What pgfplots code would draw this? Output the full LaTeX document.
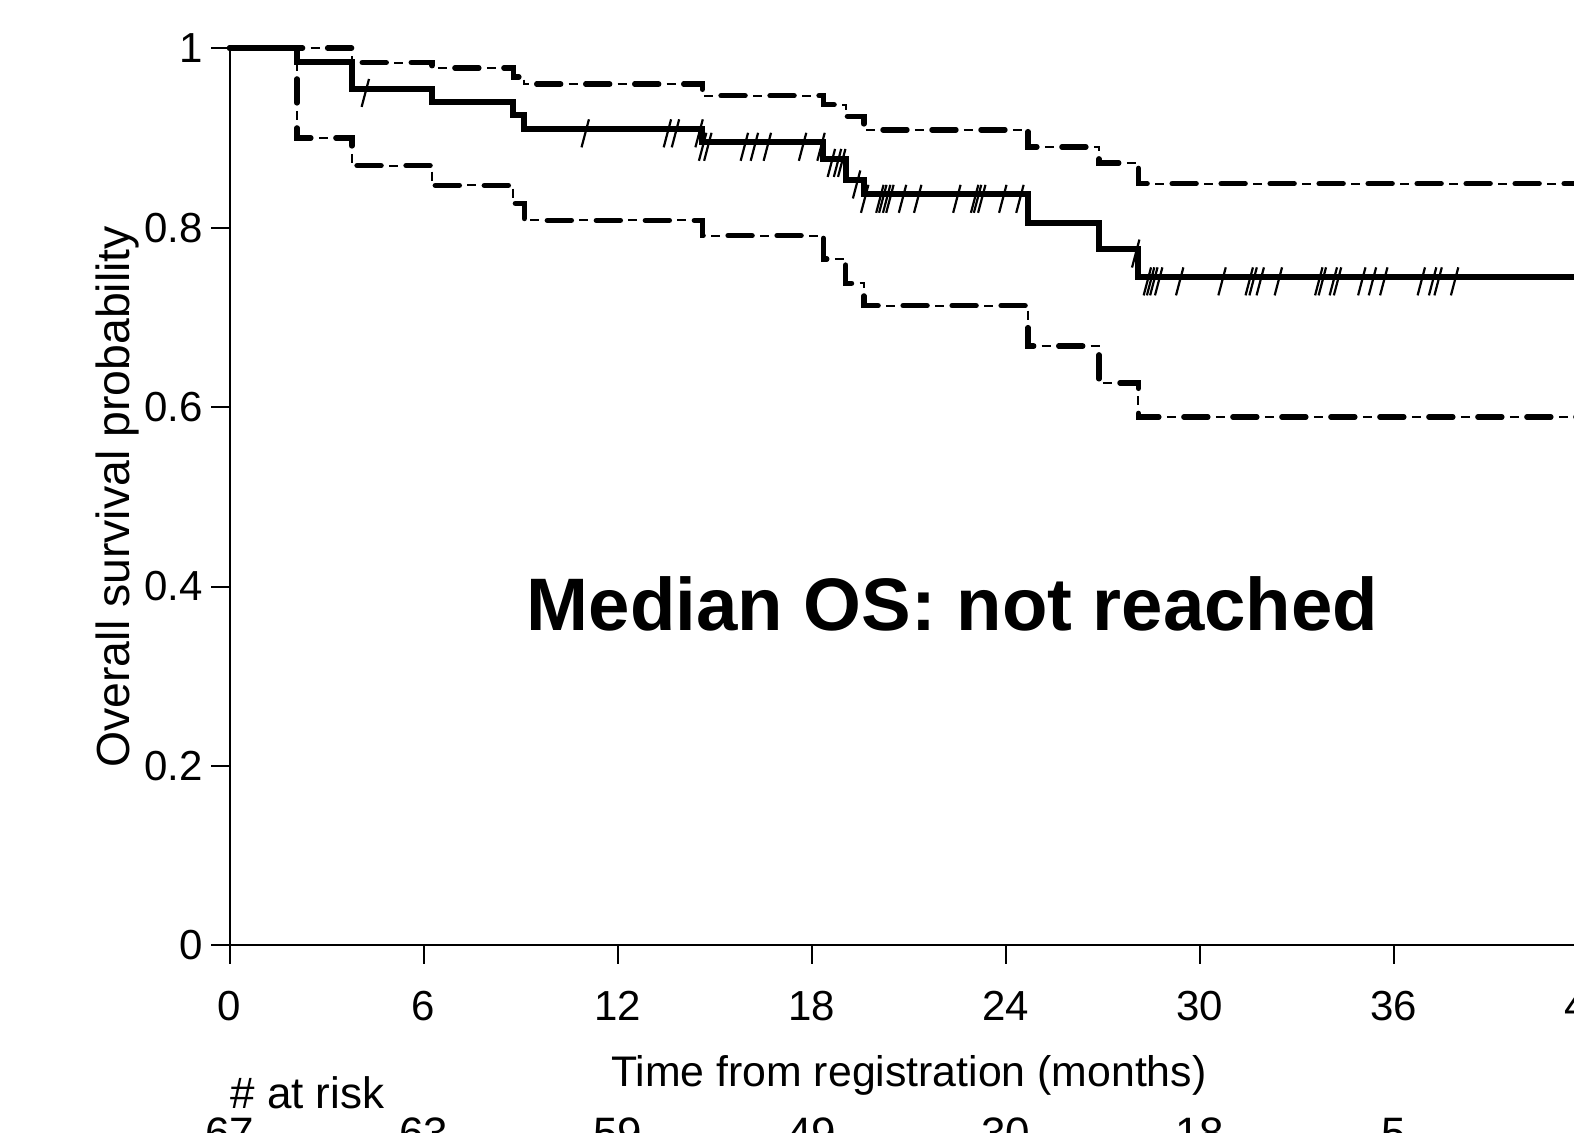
\documentclass[border=0pt]{standalone}
\usepackage{pgfplots}
\pgfplotsset{compat=1.18}
\usepackage{pgfplotstable}
\usepackage{fontspec}
\setmainfont{Liberation Sans}

\pgfdeclareplotmark{cens}{%
  \pgfpathmoveto{\pgfqpoint{-1.2pt}{-4.6pt}}%
  \pgfpathlineto{\pgfqpoint{0.65pt}{2.4pt}}%
  \pgfusepathqstroke}

\pgfplotstableread{
t s
0 1
2.08 0.985
3.78 0.955
6.26 0.940
8.77 0.925
9.11 0.910
14.62 0.895
18.36 0.877
19.05 0.853
19.61 0.837
24.69 0.805
26.88 0.776
28.10 0.745
42 0.745
}\kmtab

\pgfplotstableread{
t s
0 1
3.78 0.984
6.26 0.978
8.77 0.968
9.11 0.960
14.62 0.947
18.36 0.937
19.05 0.924
19.61 0.909
24.69 0.890
26.88 0.872
28.10 0.849
42 0.849
}\upperci

\pgfplotstableread{
t s
0 1
2.08 0.900
3.78 0.869
6.26 0.847
8.77 0.827
9.11 0.808
14.62 0.791
18.36 0.765
19.05 0.738
19.61 0.713
24.69 0.668
26.88 0.627
28.10 0.589
42 0.589
}\lowerci

\pgfplotstableread{
t s
4.23 0.955
11.03 0.910
13.57 0.910
13.82 0.910
14.55 0.910
14.66 0.895
14.82 0.895
15.95 0.895
16.26 0.895
16.66 0.895
17.75 0.895
18.32 0.895
18.64 0.877
18.83 0.877
18.96 0.877
19.42 0.853
19.67 0.837
20.14 0.837
20.23 0.837
20.35 0.837
20.45 0.837
20.84 0.837
21.31 0.837
22.52 0.837
23.07 0.837
23.16 0.837
23.29 0.837
23.94 0.837
24.47 0.837
28.05 0.776
28.41 0.745
28.51 0.745
28.61 0.745
28.76 0.745
29.41 0.745
30.72 0.745
31.56 0.745
31.68 0.745
31.90 0.745
32.46 0.745
33.71 0.745
33.82 0.745
34.16 0.745
34.29 0.745
35.04 0.745
35.37 0.745
35.72 0.745
36.88 0.745
37.23 0.745
37.40 0.745
37.91 0.745
}\censtab

\tikzset{
  cithick/.style={line width=1.35pt, line cap=round, dash pattern=on 6pt off 6.25pt},
  cithin/.style={line width=0.5pt, dash pattern=on 2.25pt off 10pt, dash phase=4.25pt},
}

\begin{document}
\begin{tikzpicture}
\useasboundingbox (0,0) rectangle (393.5pt,283.25pt);
\clip (0,0) rectangle (393.5pt,283.25pt);
\begin{axis}[
  at={(57.4pt,46.9pt)}, anchor=south west,
  scale only axis, width=339.6pt, height=224.3pt,
  xmin=0, xmax=42, ymin=0, ymax=1,
  axis x line*=bottom, axis y line*=left,
  axis line style={line width=0.5pt, black},
  xtick={0,6,...,42},
  ytick={0,0.2,0.4,0.6,0.8,1},
  yticklabels={0,0.2,0.4,0.6,0.8,1},
  tick align=outside, major tick length=4.6pt,
  tick style={line width=0.5pt, black},
  /pgf/number format/assume math mode=true,
  tick label style={font=\fontsize{10.5}{12}\selectfont},
  xticklabel style={anchor=north, inner sep=0pt, yshift=-6.75pt},
  yticklabel style={anchor=east, inner sep=0pt, xshift=-2pt},
  clip=false,
  every axis x label/.style={at={(axis description cs:0.5,0)}, anchor=base, yshift=-35.25pt, font=\fontsize{10.7}{12}\selectfont},
  every axis y label/.style={at={([xshift=-28pt]axis description cs:0,0.5)}, rotate=90, anchor=center, font=\fontsize{11.6}{13}\selectfont},
  xlabel={Time from registration (months)},
  ylabel={Overall survival probability},
]
\addplot[const plot, cithin] table[x=t,y=s] {\upperci};
\addplot[const plot, cithick] table[x=t,y=s] {\upperci};
\addplot[const plot, cithin] table[x=t,y=s] {\lowerci};
\addplot[const plot, cithick] table[x=t,y=s] {\lowerci};
\addplot[const plot, line width=1.5pt, black] table[x=t,y=s] {\kmtab};
\addplot[only marks, mark=cens, mark options={solid, line width=0.55pt, black}] table[x=t,y=s] {\censtab};
\node[anchor=base, font=\bfseries\fontsize{18.6}{22}\selectfont] at (axis cs:22.35,0.351) {Median OS: not reached};
\node[anchor=base west, inner sep=0pt, font=\fontsize{11}{13}\selectfont] at ([yshift=-40.75pt]axis cs:0,0) {\# at risk};
\node[anchor=base, inner sep=0pt, font=\fontsize{11}{13}\selectfont] at ([yshift=-50.75pt]axis cs:0,0) {67};
\node[anchor=base, inner sep=0pt, font=\fontsize{11}{13}\selectfont] at ([yshift=-50.75pt]axis cs:6,0) {63};
\node[anchor=base, inner sep=0pt, font=\fontsize{11}{13}\selectfont] at ([yshift=-50.75pt]axis cs:12,0) {59};
\node[anchor=base, inner sep=0pt, font=\fontsize{11}{13}\selectfont] at ([yshift=-50.75pt]axis cs:18,0) {49};
\node[anchor=base, inner sep=0pt, font=\fontsize{11}{13}\selectfont] at ([yshift=-50.75pt]axis cs:24,0) {30};
\node[anchor=base, inner sep=0pt, font=\fontsize{11}{13}\selectfont] at ([yshift=-50.75pt]axis cs:30,0) {18};
\node[anchor=base, inner sep=0pt, font=\fontsize{11}{13}\selectfont] at ([yshift=-50.75pt]axis cs:36,0) {5};
\end{axis}
\end{tikzpicture}
\end{document}
